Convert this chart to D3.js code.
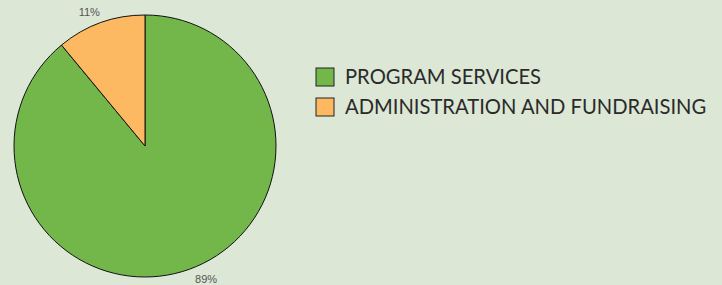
<!DOCTYPE html>
<html><head><meta charset="utf-8">
<script src="https://cdn.jsdelivr.net/npm/d3@7"></script>
<style>html,body{margin:0;padding:0;background:#dce7d6;}svg{display:block;}</style>
</head><body>
<svg id="chart" width="722" height="285"></svg>
<script>
const categories = ["PROGRAM SERVICES", "ADMINISTRATION AND FUNDRAISING"];
const values = [89, 11];
const labels = ["89%", "11%"];
const colors = ["#73b74b", "#fdb962"];

const svg = d3.select("#chart");
svg.append("rect").attr("width",722).attr("height",285).attr("fill","#dce7d6");
const cx = 145, cy = 146, r = 131;
const pie = d3.pie().sort(null).value(d => d.v);
const data = categories.map((c,i)=>({c, v: values[i], color: colors[i], label: labels[i]}));
const arcs = pie(data);
const arc = d3.arc().innerRadius(0).outerRadius(r);
const g = svg.append("g").attr("transform", `translate(${cx},${cy})`);
g.selectAll("path").data(arcs).join("path")
  .attr("d", arc).attr("fill", d => d.data.color)
  .attr("stroke", "#111").attr("stroke-width", 1);
const labelArc = d3.arc().innerRadius(r+11).outerRadius(r+11);
g.selectAll("text").data(arcs).join("text")
  .attr("transform", d => { const [x,y] = labelArc.centroid(d); return `translate(${x},${y})`; })
  .attr("text-anchor", d => ((d.startAngle+d.endAngle)/2 < Math.PI) ? "start" : "end")
  .attr("dx", d => ((d.startAngle+d.endAngle)/2 < Math.PI) ? 2 : 3)
  .attr("dy","0.35em")
  .attr("font-family","'Liberation Sans', Arial, sans-serif").attr("font-size",11)
  .attr("fill","#555").text(d => d.data.label);

const lg = svg.append("g").attr("transform","translate(316,68)");
const items = lg.selectAll("g").data(data).join("g").attr("transform",(d,i)=>`translate(0,${i*30})`);
items.append("rect").attr("width",18).attr("height",18).attr("fill",d=>d.color).attr("stroke","#222").attr("stroke-width",1);
items.append("text").attr("x",29).attr("y",16).attr("font-family","Lato, sans-serif").attr("font-size",20.2)
  .attr("fill","#2a2a2a").text(d=>d.c);
</script>
</body></html>
